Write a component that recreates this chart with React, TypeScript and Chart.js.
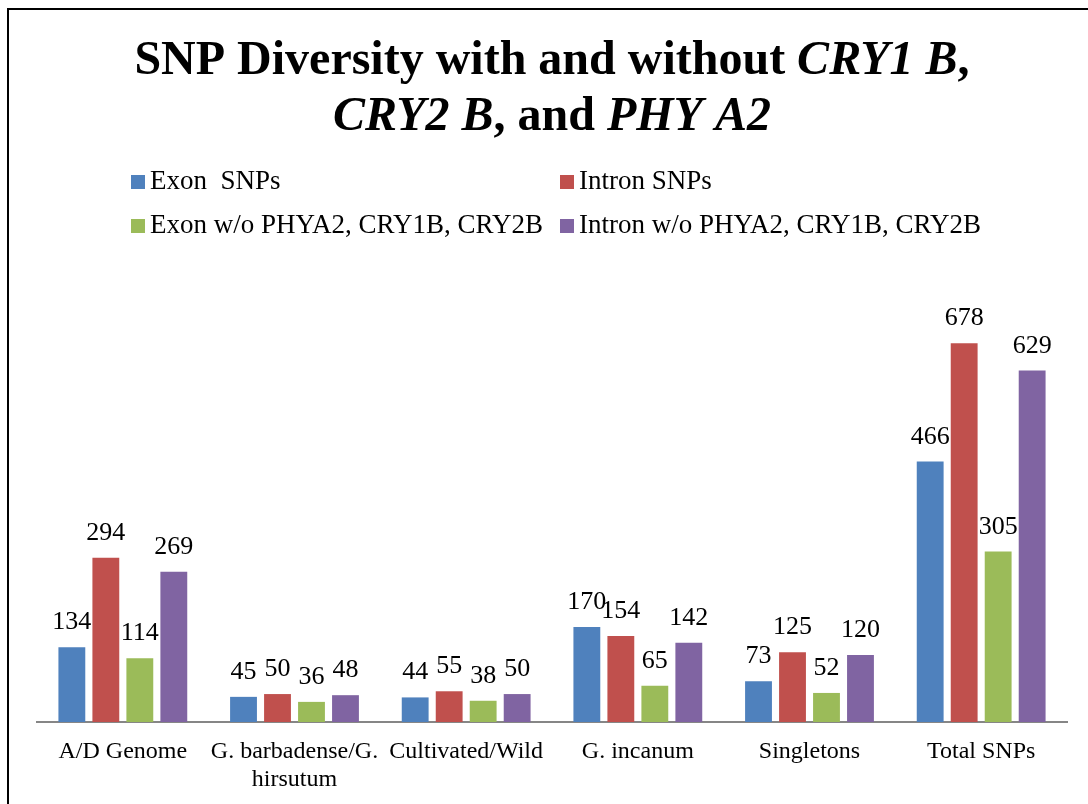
import React, { useEffect, useRef } from "react";
import { Chart, registerables } from "chart.js";

Chart.register(...registerables);

const categories: (string | string[])[] = [
  "A/D Genome",
  ["G. barbadense/G.", "hirsutum"],
  "Cultivated/Wild",
  "G. incanum",
  "Singletons",
  "Total SNPs",
];

const seriesNames = [
  "Exon  SNPs",
  "Intron SNPs",
  "Exon w/o PHYA2, CRY1B, CRY2B",
  "Intron w/o PHYA2, CRY1B, CRY2B",
];

const exonSNPs = [134, 45, 44, 170, 73, 466];
const intronSNPs = [294, 50, 55, 154, 125, 678];
const exonWithout = [114, 36, 38, 65, 52, 305];
const intronWithout = [269, 48, 50, 142, 120, 629];

const colors = ["#4F81BD", "#C0504D", "#9BBB59", "#8064A2"];

const SERIF = '"Liberation Serif", "Times New Roman", serif';

const titleLines: { text: string; italic: boolean }[][] = [
  [
    { text: "SNP Diversity with and without ", italic: false },
    { text: "CRY1 B", italic: true },
    { text: ",", italic: false },
  ],
  [
    { text: "CRY2 B", italic: true },
    { text: ", and ", italic: false },
    { text: "PHY A2", italic: true },
  ],
];

const decorPlugin = {
  id: "decor",
  afterDraw(chart: any) {
    const ctx = chart.ctx as CanvasRenderingContext2D;
    const area = chart.chartArea;
    ctx.save();
    // frame (left and top edges visible)
    ctx.fillStyle = "#000";
    ctx.fillRect(7, 8, 2, chart.height);
    ctx.fillRect(7, 8, chart.width, 2);

    // title
    const cx = (area.left + area.right) / 2;
    const baselines = [74, 130];
    ctx.textBaseline = "alphabetic";
    ctx.textAlign = "left";
    titleLines.forEach((runs, i) => {
      let total = 0;
      runs.forEach((r) => {
        ctx.font = `${r.italic ? "italic " : ""}bold 48px ${SERIF}`;
        total += ctx.measureText(r.text).width;
      });
      let x = cx - total / 2;
      runs.forEach((r) => {
        ctx.font = `${r.italic ? "italic " : ""}bold 48px ${SERIF}`;
        ctx.fillText(r.text, x, baselines[i]);
        x += ctx.measureText(r.text).width;
      });
    });

    // legend (2 columns)
    const colX = [131, 560];
    const rowY = [189, 233];
    ctx.font = `27px ${SERIF}`;
    chart.data.datasets.forEach((ds: any, i: number) => {
      const x = colX[i % 2];
      const y = rowY[Math.floor(i / 2)];
      ctx.fillStyle = ds.backgroundColor;
      ctx.fillRect(x, y - 14, 14, 14);
      ctx.fillStyle = "#000";
      ctx.fillText(ds.label, x + 19, y);
    });

    // data labels
    ctx.font = `26px ${SERIF}`;
    ctx.textAlign = "center";
    ctx.fillStyle = "#000";
    chart.data.datasets.forEach((ds: any, di: number) => {
      const meta = chart.getDatasetMeta(di);
      meta.data.forEach((bar: any, j: number) => {
        ctx.fillText(String(ds.data[j]), bar.x, bar.y - 18);
      });
    });
    ctx.restore();
  },
};

export default function App() {
  const ref = useRef<HTMLCanvasElement | null>(null);
  useEffect(() => {
    if (!ref.current) return;
    const chart = new Chart(ref.current, {
      type: "bar",
      data: {
        labels: categories,
        datasets: [exonSNPs, intronSNPs, exonWithout, intronWithout].map((d, i) => ({
          label: seriesNames[i],
          data: d,
          backgroundColor: colors[i],
          borderWidth: 0,
          categoryPercentage: 0.792,
          barPercentage: 0.79,
        })),
      },
      options: {
        responsive: false,
        animation: false,
        devicePixelRatio: 1,
        layout: { padding: { left: 37, right: 21, top: 275, bottom: 0 } },
        plugins: {
          legend: { display: false },
          title: { display: false },
          tooltip: { enabled: false },
        },
        scales: {
          x: {
            grid: { display: false, drawTicks: false },
            border: { display: true, color: "#868686", width: 2 },
            ticks: {
              color: "#000",
              font: { family: SERIF, size: 24, lineHeight: 1.17 },
              padding: 16,
              maxRotation: 0,
              autoSkip: false,
            },
            afterFit: (scale: any) => {
              scale.height = 82;
            },
          },
          y: {
            display: false,
            min: 0,
            max: 800,
          },
        },
      },
      plugins: [decorPlugin],
    });
    return () => chart.destroy();
  }, []);
  return (
    <div style={{ position: "fixed", left: 0, top: 0, width: 1088, height: 804, background: "#fff" }}>
      <canvas ref={ref} width={1088} height={804} style={{ display: "block", width: 1088, height: 804 }} />
    </div>
  );
}
